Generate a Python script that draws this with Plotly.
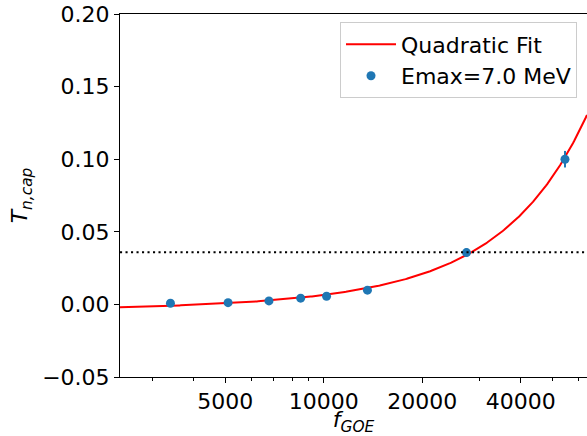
import numpy as np
import plotly.graph_objects as go

# Measured transmission vs. GOE scaling factor
f_goe = [3400, 5100, 6800, 8500, 10200, 13600, 27300, 54600]
t_cap = [0.0008, 0.0012, 0.0024, 0.0043, 0.0056, 0.0098, 0.0357, 0.1000]
t_err = [0.0003, 0.0004, 0.0006, 0.0008, 0.0010, 0.0014, 0.0030, 0.0057]

# Quadratic fit coefficients: T = c0 + c1*f + c2*f^2
fit_coeffs = [-0.00406, 8.574e-7, 1.966e-11]

# Horizontal reference level
t_ref = 0.036

x_range = [2384, 63750]
x_ticks = [5000, 10000, 20000, 40000]
x_minor = [3000, 4000, 6000, 7000, 8000, 9000, 30000, 50000, 60000]
y_ticks = [-0.05, 0.00, 0.05, 0.10, 0.15, 0.20]

FONT = "DejaVu Sans"

f_fit = np.logspace(np.log10(x_range[0]), np.log10(x_range[1]), 400)
t_fit = fit_coeffs[0] + fit_coeffs[1] * f_fit + fit_coeffs[2] * f_fit ** 2

fig = go.Figure()

fig.add_trace(go.Scatter(
    x=f_fit, y=t_fit, mode="lines", name="Quadratic Fit",
    line=dict(color="#ff0000", width=2),
))

fig.add_trace(go.Scatter(
    x=f_goe, y=t_cap, mode="markers", name="Emax=7.0 MeV",
    marker=dict(color="#1f77b4", size=9),
    error_y=dict(type="data", array=t_err, visible=True,
                 color="#1f77b4", thickness=2, width=0),
))

fig.add_shape(type="line", xref="paper", yref="y",
              x0=0, x1=1, y0=t_ref, y1=t_ref,
              line=dict(color="black", width=2, dash="2.1px,3.4px"))

fig.update_layout(
    width=587, height=436,
    margin=dict(l=120, r=0, t=14, b=59, autoexpand=False),
    paper_bgcolor="white", plot_bgcolor="white",
    font=dict(family=FONT, size=22, color="black"),
    showlegend=True,
    legend=dict(
        x=0.9786, y=0.977, xanchor="right", yanchor="top",
        itemwidth=50,
        bgcolor="rgba(255,255,255,0.8)", bordercolor="#cccccc", borderwidth=1,
        font=dict(family=FONT, size=22, color="black"),
    ),
    xaxis=dict(
        type="log", automargin=False,
        range=[np.log10(x_range[0]), np.log10(x_range[1])],
        tickmode="array", tickvals=x_ticks,
        ticktext=[str(v) for v in x_ticks],
        ticks="outside", ticklen=5, tickwidth=1, tickcolor="black",
        minor=dict(tickmode="array", tickvals=x_minor, ticks="outside",
                   ticklen=3, tickwidth=1, tickcolor="black", showgrid=False),
        showline=True, linecolor="black", linewidth=1, mirror=True,
        showgrid=False, zeroline=False,
        title=dict(text="<i>f</i><sub><i>GOE</i></sub>", standoff=6,
                   font=dict(family=FONT, size=22)),
    ),
    yaxis=dict(
        range=[-0.05, 0.20], automargin=False,
        tickmode="array", tickvals=y_ticks, tickformat=".2f",
        ticks="outside", ticklen=5, tickwidth=1, tickcolor="black",
        showline=True, linecolor="black", linewidth=1, mirror=False,
        showgrid=False, zeroline=False,
        title=dict(text="<i>T</i><sub><i>n,cap</i></sub>", standoff=8,
                   font=dict(family=FONT, size=22)),
    ),
)

fig.write_html("out.html")
